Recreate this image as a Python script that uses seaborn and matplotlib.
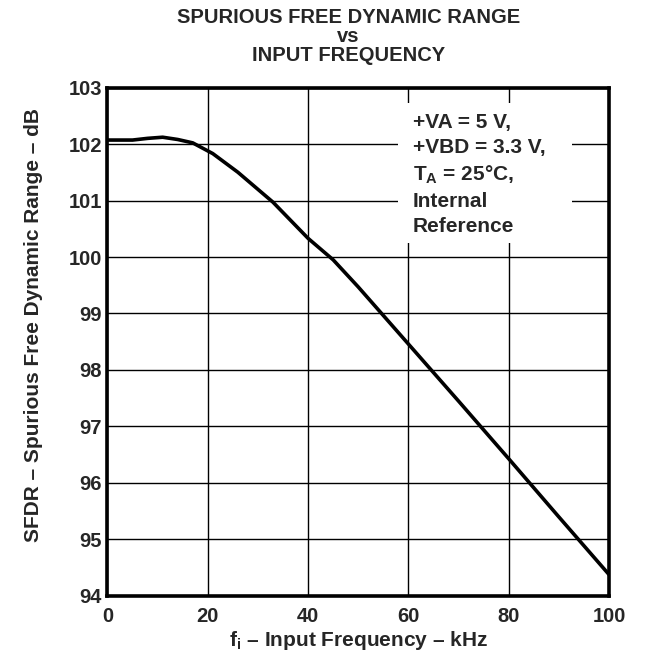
import numpy as np
import pandas as pd
import matplotlib
matplotlib.use("Agg")
import matplotlib.pyplot as plt
import matplotlib.patches as patches
import seaborn as sns

# ---- data ----
freq_khz = [0, 5, 8, 11, 14, 17, 21, 26, 33, 40, 45, 50, 60, 70, 80, 90, 100]
sfdr_db = [102.07, 102.07, 102.10, 102.12, 102.08, 102.02, 101.83, 101.50, 100.97,
           100.33, 99.95, 99.47, 98.46, 97.45, 96.43, 95.40, 94.38]
x_ticks = [0, 20, 40, 60, 80, 100]
y_ticks = [94, 95, 96, 97, 98, 99, 100, 101, 102, 103]

df = pd.DataFrame({"f": freq_khz, "sfdr": sfdr_db})

sns.set_style("white")
plt.rcParams['font.family'] = ['Liberation Sans', 'DejaVu Sans']
plt.rcParams['font.weight'] = 'bold'
plt.rcParams['mathtext.fontset'] = 'custom'
plt.rcParams['mathtext.rm'] = 'Liberation Sans:bold'
plt.rcParams['mathtext.bf'] = 'Liberation Sans:bold'

fig = plt.figure(figsize=(6.46, 6.54), dpi=100)
ax = fig.add_axes([0.1664, 0.0887, 0.7763, 0.7775])

sns.lineplot(data=df, x="f", y="sfdr", color="black", lw=2.6, ax=ax, zorder=4)

ax.set_xlim(0, 100)
ax.set_ylim(94, 103)
ax.set_xticks(x_ticks)
ax.set_yticks(y_ticks)
ax.grid(True, color="black", lw=1.0)
ax.tick_params(axis="x", length=0, labelsize=14.5, pad=8)
ax.tick_params(axis="y", length=0, labelsize=14.5, pad=4)
for lab in ax.get_xticklabels() + ax.get_yticklabels():
    lab.set_fontweight("bold")
for sp in ax.spines.values():
    sp.set_visible(True)
    sp.set_color("black")
    sp.set_linewidth(2.6)
    sp.set_zorder(5)

ax.set_xlabel(r"f$_\mathregular{i}$ – Input Frequency – kHz", fontsize=15, fontweight="bold", labelpad=2)
ax.set_ylabel("SFDR – Spurious Free Dynamic Range – dB", fontsize=15, fontweight="bold",
              labelpad=18, y=0.533)

fig.text(0.539, 0.988, "SPURIOUS FREE DYNAMIC RANGE\nvs\nINPUT FREQUENCY",
         ha="center", va="top", fontsize=14.5, fontweight="bold", linespacing=1.0)

# white panel behind the conditions note (hides the grid there)
ax.add_patch(patches.Rectangle((0.579, 0.694), 0.347, 0.276, transform=ax.transAxes,
                               fc="white", ec="none", zorder=3))
ax.text(0.609, 0.950,
        "+VA = 5 V,\n+VBD = 3.3 V,\nT$_\\mathregular{A}$ = 25°C,\nInternal\nReference",
        transform=ax.transAxes, ha="left", va="top", fontsize=15, fontweight="bold",
        linespacing=1.4, zorder=6)

fig.savefig("out.png", dpi=100)
